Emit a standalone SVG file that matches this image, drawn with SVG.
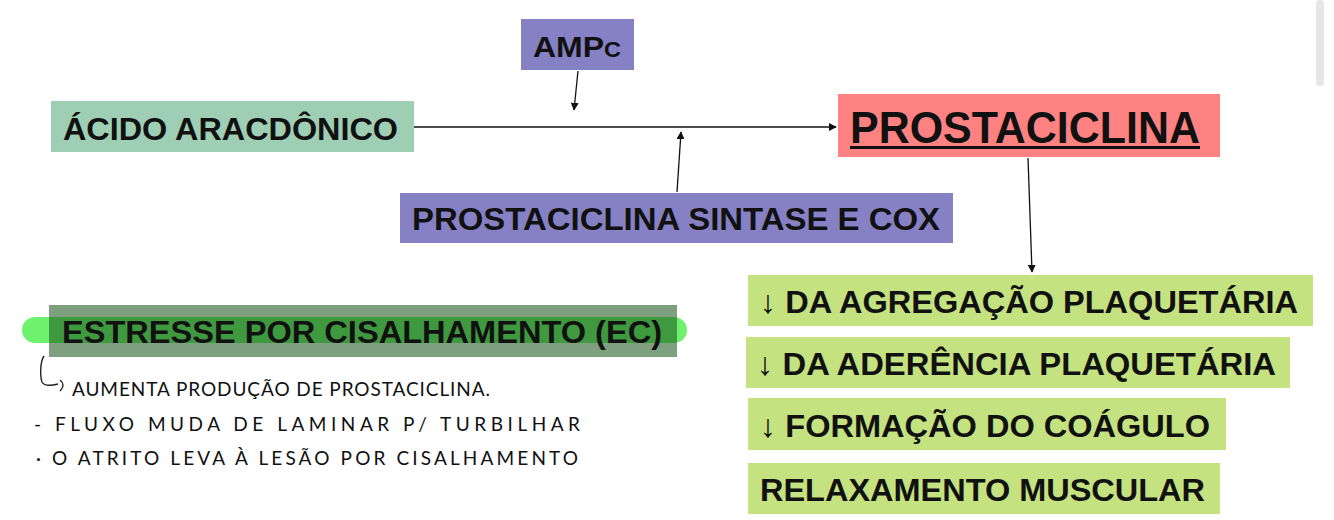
<svg xmlns="http://www.w3.org/2000/svg" width="1334" height="520" viewBox="0 0 1334 520">
<defs>
<marker id="ah" viewBox="0 0 10 10" refX="9" refY="5" markerWidth="8" markerHeight="8" markerUnits="userSpaceOnUse" orient="auto">
<path d="M0,0 L10,5 L0,10 z" fill="#111"/>
</marker>
<style>
.t{font-family:"Liberation Sans",Arial,sans-serif;font-weight:bold;fill:#111;}
.c{stroke:#111;stroke-width:1.3;fill:none;marker-end:url(#ah);}
.hw{font-family:"Lato","Open Sans",sans-serif;font-weight:400;fill:#111;font-size:19px;}
.blue{fill:#8581c4;}
.lime{fill:#c4e27f;}
</style>
</defs>
<rect width="1334" height="520" fill="#ffffff"/>
<rect x="1316" y="0" width="8" height="86" rx="4" fill="#e6e6e6"/>

<g id="connectors">
<line class="c" x1="414" y1="127" x2="836" y2="127"/>
<line class="c" x1="578" y1="71" x2="574" y2="110"/>
<line class="c" x1="677" y1="192" x2="681" y2="132"/>
<line class="c" x1="1028" y1="158" x2="1032" y2="272"/>
</g>

<g id="acido">
<rect x="51" y="101" width="363" height="51" fill="#9ecfb4"/>
<text class="t" x="63" y="140" font-size="32" textLength="335" lengthAdjust="spacingAndGlyphs">ÁCIDO ARACDÔNICO</text>
</g>

<g id="ampc">
<rect class="blue" x="521" y="19" width="113" height="51"/>
<text class="t" x="533" y="57" font-size="30" textLength="88" lengthAdjust="spacingAndGlyphs">AMP<tspan font-size="22">C</tspan></text>
</g>

<g id="prostaciclina">
<rect x="838" y="94" width="382" height="63" fill="#ff8282"/>
<text class="t" x="850" y="143" font-size="44" textLength="350" lengthAdjust="spacingAndGlyphs">PROSTACICLINA</text>
<rect x="850" y="146" width="350" height="3" fill="#111"/>
</g>

<g id="sintase">
<rect class="blue" x="400" y="193" width="553" height="50"/>
<text class="t" x="412" y="230" font-size="32" textLength="528" lengthAdjust="spacingAndGlyphs">PROSTACICLINA SINTASE E COX</text>
</g>

<g id="estresse">
<rect x="22" y="317" width="665" height="26" rx="13" fill="#6ef26e"/>
<rect x="49" y="305" width="628" height="52" fill="#1b551b" fill-opacity="0.56"/>
<text class="t" x="62" y="343" font-size="32" textLength="600" lengthAdjust="spacingAndGlyphs">ESTRESSE POR CISALHAMENTO (EC)</text>
</g>

<g id="notas">
<path d="M44,356 C40,362 40,376 42,382 C44,386 50,386 58,384" stroke="#222" stroke-width="1.4" fill="none"/>
<path d="M60,380 C64,383 64,387 60,391" stroke="#222" stroke-width="1.4" fill="none"/>
<text class="hw" x="72" y="396" textLength="418" lengthAdjust="spacing">AUMENTA PRODUÇÃO DE PROSTACICLINA.</text>
<text class="hw" x="34" y="431" textLength="546" lengthAdjust="spacing">- FLUXO MUDA DE LAMINAR P/ TURBILHAR</text>
<text class="hw" x="36" y="465" textLength="542" lengthAdjust="spacing">· O ATRITO LEVA À LESÃO POR CISALHAMENTO</text>
</g>

<g id="agregacao">
<rect class="lime" x="748" y="275" width="565" height="51"/>
<text class="t" x="760" y="313" font-size="32" textLength="538" lengthAdjust="spacingAndGlyphs">↓ DA AGREGAÇÃO PLAQUETÁRIA</text>
</g>

<g id="aderencia">
<rect class="lime" x="746" y="337" width="544" height="51"/>
<text class="t" x="757" y="375" font-size="32" textLength="519" lengthAdjust="spacingAndGlyphs">↓ DA ADERÊNCIA PLAQUETÁRIA</text>
</g>

<g id="coagulo">
<rect class="lime" x="748" y="398" width="478" height="52"/>
<text class="t" x="760" y="437" font-size="32" textLength="450" lengthAdjust="spacingAndGlyphs">↓ FORMAÇÃO DO COÁGULO</text>
</g>

<g id="relaxamento">
<rect class="lime" x="748" y="463" width="472" height="51"/>
<text class="t" x="760" y="501" font-size="32" textLength="445" lengthAdjust="spacingAndGlyphs">RELAXAMENTO MUSCULAR</text>
</g>
</svg>
